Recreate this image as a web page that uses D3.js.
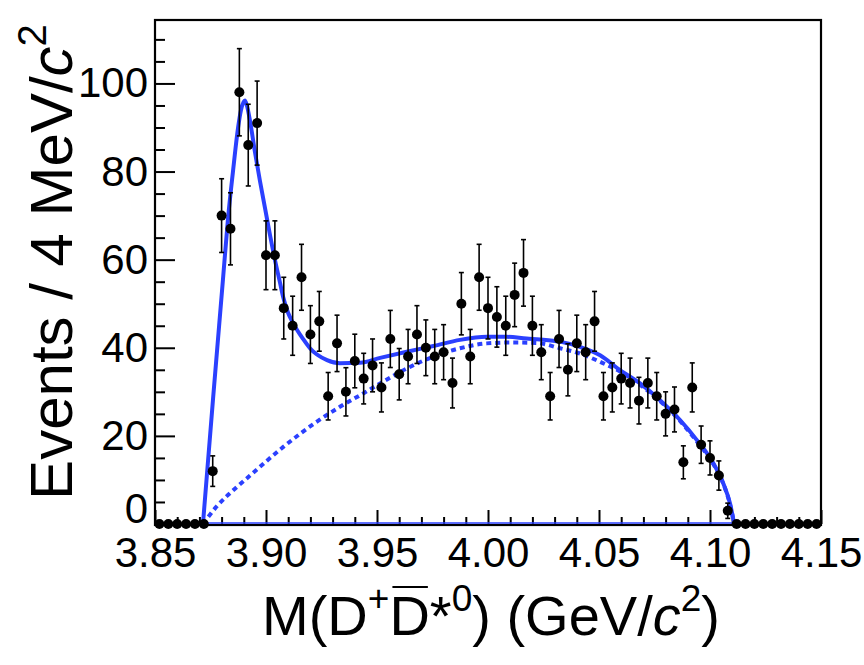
<!DOCTYPE html>
<html><head><meta charset="utf-8">
<script src="https://cdn.jsdelivr.net/npm/d3@7"></script>
<style>
html,body{margin:0;padding:0;background:#fff;}
svg{display:block;font-family:"Liberation Sans",Arial,Helvetica,sans-serif;}
</style>
</head><body>
<svg id="chart" width="864" height="665"></svg>
<script>
// ---- data ----
const massBins = [3.852,3.856,3.860,3.864,3.868,3.872,
  3.876,3.880,3.884,3.888,3.892,3.896,3.900,3.904,3.908,3.912,
  3.916,3.920,3.924,3.928,3.932,3.936,3.940,3.944,3.948,3.952,
  3.956,3.960,3.964,3.968,3.972,3.976,3.980,3.984,3.988,3.992,
  3.996,4.000,4.004,4.008,4.012,4.016,4.020,4.024,4.028,4.032,
  4.036,4.040,4.044,4.048,4.052,4.056,4.060,4.064,4.068,4.072,
  4.076,4.080,4.084,4.088,4.092,4.096,4.100,4.104,4.108,
  4.112,4.116,4.120,4.124,4.128,4.132,4.136,4.140,4.144,4.148];
const counts = [0,0,0,0,0,0,
  12,70,67,98,86,91,61,61,49,45,
  56,43,46,29,41,30,37,33,36,31,
  42,34,38,43,40,38,39,32,50,38,
  56,49,47,45,52,57,45,39,29,42,
  35,41,39,46,29,31,33,32,28,32,
  29,25,26,14,31,18,15,11,3,
  0,0,0,0,0,0,0,0,0,0];

const fitMass  = [3.8716,3.8761,3.8806,3.8829,3.8851,3.8874,3.8887,3.8905,3.8914,3.8928,
  3.8950,3.8973,3.8996,3.9018,3.9041,3.9063,3.9077,3.9099,3.9122,3.9167,3.9198,3.9275,
  3.9333,3.9423,3.9514,3.9634,3.9754,3.9874,3.9994,4.0084,4.0174,4.0234,4.0324,4.0414,
  4.0505,4.0595,4.0685,4.0775,4.0865,4.0940,4.1015,4.1060,4.1090,4.1109];
const fitTotal = [0,28.1,55.4,69.4,79.9,89.9,93.9,96.1,95.0,91.5,
  84.5,77.8,71.6,65.6,59.8,54.8,51.6,48.0,45.6,42.0,39.9,37.2,
  36.5,36.6,37.7,39.1,40.4,41.8,42.5,42.5,42.1,41.9,41.4,40.2,
  38.3,34.9,31.9,28.1,23.6,19.1,13.8,9.2,4.7,0];

const bkgMass   = [3.8716,3.8778,3.8860,3.8928,3.9078,3.9228,3.9333,3.9440,3.9514,3.9634,
  3.9754,3.9874,3.9994,4.0114,4.0219,4.0324,4.0414,4.0505,4.0595,4.0685,4.0775,4.0865,
  4.0940,4.1015,4.1060,4.1090,4.1109];
const bkgValues = [0,4.0,8.0,11.0,17.5,23.2,26.6,29.7,31.9,35.3,
  38.0,39.9,41.0,41.2,41.1,39.9,38.7,36.8,34.6,31.6,27.9,23.4,
  18.8,13.6,9.1,4.5,0];

const xTicks = [3.85,3.90,3.95,4.00,4.05,4.10,4.15];
const xTickLabels = ["3.85","3.90","3.95","4.00","4.05","4.10","4.15"];
const yTicks = [0,20,40,60,80,100];
const yTickLabels = ["0","20","40","60","80","100"];

// ---- layout ----
const svg = d3.select("#chart");
svg.append("rect").attr("width",864).attr("height",665).attr("fill","#fff");
const X0 = 155, X1 = 821, Y0 = 524, Y1 = 20;
const x = d3.scaleLinear().domain([3.85,4.15]).range([X0,X1]);
const y = d3.scaleLinear().domain([0,114.4]).range([Y0,Y1]);
const blue = "#2b40ff";

// minor ticks
const xMinor = d3.range(3.85,4.1501,0.01).filter(v=>!xTicks.some(t=>Math.abs(t-v)<1e-6));
const yMinor = d3.range(0,114.4,5).filter(v=>v%20!==0);

svg.append("g").attr("transform",`translate(0,${Y0})`)
  .call(d3.axisBottom(x).tickValues(xMinor).tickSizeInner(-7).tickSizeOuter(0).tickFormat(""))
  .call(g=>g.select(".domain").remove())
  .call(g=>g.selectAll("line").attr("stroke","#000").attr("stroke-width",2));
svg.append("g").attr("transform",`translate(${X0},0)`)
  .call(d3.axisLeft(y).tickValues(yMinor).tickSizeInner(-10).tickSizeOuter(0).tickFormat(""))
  .call(g=>g.select(".domain").remove())
  .call(g=>g.selectAll("line").attr("stroke","#000").attr("stroke-width",2));

// major axes
const xa = svg.append("g").attr("transform",`translate(0,${Y0})`)
  .call(d3.axisBottom(x).tickValues(xTicks).tickSizeInner(-14).tickSizeOuter(0).tickPadding(13)
    .tickFormat((d,i)=>xTickLabels[i]));
xa.select(".domain").remove();
xa.selectAll("line").attr("stroke","#000").attr("stroke-width",2);
xa.selectAll("text").attr("font-size",42).attr("fill","#000")
  .attr("font-family","'Liberation Sans',Arial,sans-serif");

const ya = svg.append("g").attr("transform",`translate(${X0},0)`)
  .call(d3.axisLeft(y).tickValues(yTicks).tickSizeInner(-20).tickSizeOuter(0).tickPadding(7)
    .tickFormat((d,i)=>yTickLabels[i]));
ya.select(".domain").remove();
ya.selectAll("line").attr("stroke","#000").attr("stroke-width",2);
ya.selectAll("text").attr("font-size",42).attr("fill","#000")
  .attr("font-family","'Liberation Sans',Arial,sans-serif");
ya.selectAll(".tick").filter(d=>d===0).select("text").attr("dy","-0.04em");

// frame
svg.append("rect").attr("x",X0).attr("y",Y1).attr("width",X1-X0).attr("height",Y0-Y1+1)
  .attr("fill","none").attr("stroke","#000").attr("stroke-width",2.2);

// curves
const line = d3.line().x(d=>x(d[0])).y(d=>y(d[1])).curve(d3.curveMonotoneX);
svg.append("line").attr("x1",x(fitMass[0])).attr("x2",x(fitMass[fitMass.length-1]))
  .attr("y1",Y0-1).attr("y2",Y0-1).attr("stroke",blue).attr("stroke-width",1.5);
svg.append("path").datum(bkgMass.map((m,i)=>[m,bkgValues[i]]))
  .attr("d",line).attr("fill","none").attr("stroke",blue).attr("stroke-width",4)
  .attr("stroke-dasharray","5,4");
svg.append("path").datum(fitMass.map((m,i)=>[m,fitTotal[i]]))
  .attr("d",line).attr("fill","none").attr("stroke",blue).attr("stroke-width",4)
  .attr("stroke-linejoin","round");

// data points with error bars
const pts = massBins.map((m,i)=>({m, n:counts[i], e:Math.sqrt(counts[i])}));
const eb = svg.append("g").attr("stroke","#000").attr("stroke-width",1.6);
pts.filter(p=>p.n>0).forEach(p=>{
  const cx = x(p.m);
  eb.append("line").attr("x1",cx).attr("x2",cx).attr("y1",y(p.n-p.e)).attr("y2",y(p.n+p.e));
  [p.n-p.e,p.n+p.e].forEach(v=>eb.append("line").attr("x1",cx-2.5).attr("x2",cx+2.5)
    .attr("y1",y(v)).attr("y2",y(v)));
});
svg.append("g").selectAll("circle").data(pts).join("circle")
  .attr("cx",p=>x(p.m)).attr("cy",p=>y(p.n)).attr("r",5).attr("fill","#000");

// axis titles
const yt = svg.append("text").attr("transform","translate(72,262) rotate(-90)")
  .attr("text-anchor","middle").attr("font-size",60).attr("fill","#000");
yt.append("tspan").text("Events / 4 MeV/");
yt.append("tspan").attr("font-style","italic").text("c");
yt.append("tspan").attr("font-size",40).attr("dy",-26).text("2");

const xt = svg.append("text").attr("x",491).attr("y",635)
  .attr("text-anchor","middle").attr("font-size",56).attr("fill","#000");
xt.append("tspan").text("M(D");
xt.append("tspan").attr("font-size",37).attr("dy",-24).text("+");
xt.append("tspan").attr("dy",24).text("D");
xt.append("tspan").text("*");
xt.append("tspan").attr("font-size",37).attr("dy",-24).text("0");
xt.append("tspan").attr("dy",24).text(") (GeV/");
xt.append("tspan").attr("font-style","italic").text("c");
xt.append("tspan").attr("font-size",37).attr("dy",-24).text("2");
xt.append("tspan").attr("dy",24).text(")");
// overline over the anti-D (character index 4)
const ext = xt.node().getExtentOfChar(4);
svg.append("line").attr("x1",ext.x+3).attr("x2",ext.x+ext.width-2)
  .attr("y1",587).attr("y2",587).attr("stroke","#000").attr("stroke-width",2.2);
</script>
</body></html>
